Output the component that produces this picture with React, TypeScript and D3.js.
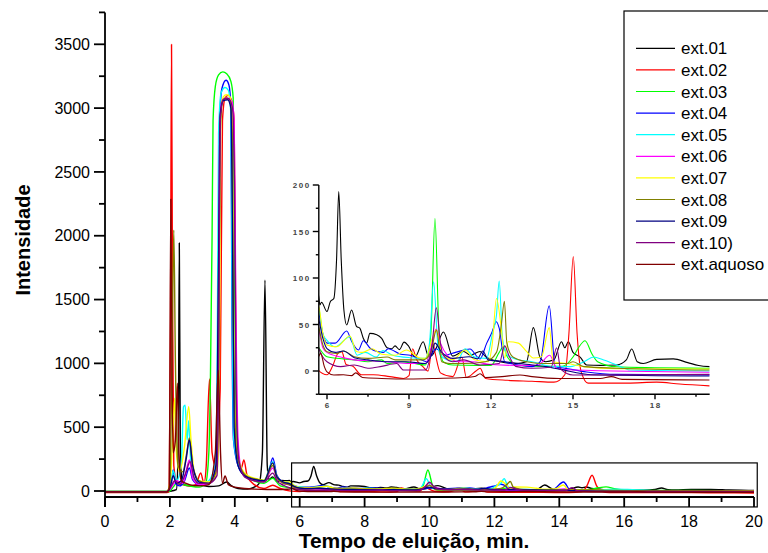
import React from "react";
import * as d3 from "d3";

type Pt = [number, number];

// Series names and Origin-style colours
const seriesNames = ["ext.01", "ext.02", "ext.03", "ext.04", "ext.05", "ext.06", "ext.07", "ext.08", "ext.09", "ext.10)", "ext.aquoso"];
const seriesColors = ["#000000", "#ff0000", "#00ff00", "#0000ff", "#00ffff", "#ff00ff", "#ffff00", "#808000", "#000080", "#800080", "#800000"];

// Chromatograms: [elution time (min), intensity]
const ext01: Pt[] = [[0,-4],[1.9,-4],[2.0,-2],[2.2,10],[2.26,400],[2.29,1944],[2.32,400],[2.38,60],[2.6,40],[2.93,47],[3.2,35],[3.5,40],[3.75,70],[3.9,40],[4.1,20],[4.4,15],[4.6,30],[4.75,60],[4.85,300],[4.93,1652],[5.0,200],[5.05,90],[5.17,110],[5.3,75],[5.45,82],[5.6,80],[5.68,83],[5.74,71],[5.8,74],[6.0,64],[6.12,74.5],[6.25,78],[6.35,120],[6.43,193],[6.52,120],[6.62,65],[6.72,49.5],[6.9,65.6],[7.08,48],[7.2,46],[7.33,35],[7.45,30],[7.57,40.5],[7.82,39],[8.0,35],[8.2,25],[8.37,24],[8.49,27],[8.65,23],[8.82,31],[8.98,27],[9.22,15],[9.52,31.5],[9.71,16],[9.85,17],[10.0,25],[10.26,42],[10.6,16],[11.0,21],[11.25,17],[11.6,21],[11.8,15.5],[12.33,10],[12.9,8],[13.3,10],[13.55,46.6],[13.8,14],[14.0,10],[14.3,12],[14.58,31.5],[14.7,25],[14.83,31.5],[15.0,20],[15.26,15],[15.5,6.5],[16.0,6],[16.6,6.5],[16.95,12],[17.15,23.6],[17.35,10],[17.57,8],[18.06,12.5],[18.67,13],[19.2,9],[19.6,6],[20,4.7]];
const ext02: Pt[] = [[0,-12],[1.9,-12],[1.98,-5],[2.02,1500],[2.05,3498],[2.08,1500],[2.12,200],[2.2,80],[2.4,50],[2.6,40],[2.8,50],[2.95,141],[3.05,60],[3.12,200],[3.22,877],[3.3,300],[3.4,200],[3.55,800],[3.62,2900],[3.7,3080],[3.8,3100],[3.9,3060],[3.98,2900],[4.03,1200],[4.1,300],[4.2,180],[4.28,243],[4.38,120],[4.6,50],[4.9,20],[5.17,45],[5.4,20],[5.68,1],[6.0,-4],[6.2,5],[6.4,19],[6.54,20.8],[6.7,7],[6.95,5],[7.25,-4],[7.7,-4],[8.3,-6],[8.8,-8],[9.0,-5],[9.13,24],[9.28,12],[9.5,5],[9.7,0],[9.87,30],[9.95,20],[10.15,-2],[10.6,-6],[10.93,15],[11.1,-7],[11.45,0],[11.6,3],[11.8,-8],[12.6,-10],[13.5,-11],[14.3,-12],[14.7,-4],[14.85,40],[15.01,123],[15.15,40],[15.3,-1],[15.55,-13],[17.0,-13],[18.06,-12],[18.9,-14],[20,-16]];
const ext03: Pt[] = [[0,-4],[1.9,-4],[2.0,0],[2.1,30],[2.2,60],[2.4,50],[2.6,40],[2.9,30],[3.1,60],[3.2,300],[3.25,900],[3.3,2000],[3.33,2900],[3.4,3170],[3.5,3260],[3.63,3284],[3.75,3270],[3.88,3210],[3.95,3080],[3.98,2200],[4.02,900],[4.1,250],[4.3,130],[4.6,80],[4.9,60],[5.17,100],[5.4,40],[5.68,26],[6.0,15.4],[6.6,13],[7.0,12],[7.5,10],[8.0,12],[8.2,8],[8.7,10],[9.2,8],[9.6,6.5],[9.8,40],[9.95,164],[10.1,40],[10.25,10],[10.6,6.5],[11.5,6],[12.0,6],[12.3,20],[12.45,26],[12.6,15],[13.0,6],[14.0,5],[14.6,5],[15.0,15],[15.2,25],[15.44,32.6],[15.7,18],[15.9,10],[16.6,4.5],[18,3.5],[20,2.9]];
const ext04: Pt[] = [[0,-5],[1.9,-5],[2.02,20],[2.1,165],[2.17,60],[2.3,40],[2.45,80],[2.6,180],[2.7,90],[2.9,50],[3.2,60],[3.4,150],[3.48,600],[3.52,2800],[3.6,3150],[3.73,3218],[3.82,3180],[3.88,3000],[3.91,1500],[3.96,400],[4.1,200],[4.3,120],[4.6,90],[4.9,80],[5.05,150],[5.17,258],[5.3,120],[5.5,70],[5.68,64],[5.85,40],[6.0,30],[6.3,30],[6.72,43],[6.9,32],[7.15,22.6],[7.33,32.6],[7.6,24],[8.06,20],[8.24,24],[8.7,18],[9.04,17],[9.28,14.3],[9.65,10],[9.99,24],[10.3,17],[10.7,20],[11.23,23.6],[11.6,13],[11.84,29.7],[12.02,40.5],[12.2,53],[12.3,46],[12.5,10],[13.0,6.5],[13.5,4.7],[13.8,10],[14.13,70],[14.35,4.7],[14.7,3],[15.5,-1],[16.6,-3.6],[20,-4.3]];
const ext05: Pt[] = [[0,-5],[1.9,-5],[2.02,40],[2.1,160],[2.2,80],[2.35,200],[2.42,660],[2.47,673],[2.53,400],[2.58,550],[2.65,200],[2.8,80],[3.0,60],[3.2,80],[3.38,200],[3.45,700],[3.5,2800],[3.58,3120],[3.7,3161],[3.8,3140],[3.88,2950],[3.92,1500],[3.97,400],[4.1,210],[4.3,130],[4.6,95],[4.9,85],[5.17,230],[5.3,110],[5.5,70],[5.68,69],[5.85,40],[6.0,33],[6.3,26],[6.84,37],[7.1,17],[7.4,20],[7.8,15],[8.05,22],[8.4,17],[9.04,14.3],[9.6,13.6],[9.75,30],[9.9,96],[10.05,30],[10.15,17],[10.4,12],[10.75,10],[11.05,24],[11.4,15],[11.84,13.6],[12.05,40],[12.2,60],[12.3,96.8],[12.42,35],[12.6,17],[13.0,12],[13.5,10],[14.3,4.7],[14.9,4.7],[15.4,10],[15.75,15],[16.1,12],[16.6,6.5],[17.1,1],[20,0]];
const ext06: Pt[] = [[0,-5],[1.9,-5],[2.02,20],[2.2,80],[2.4,60],[2.6,243],[2.7,100],[2.9,50],[3.2,60],[3.4,120],[3.48,700],[3.53,2800],[3.6,3050],[3.75,3080],[3.9,3060],[3.98,2900],[4.03,1500],[4.1,400],[4.2,170],[4.4,110],[4.7,85],[4.9,75],[5.17,180],[5.3,100],[5.5,60],[5.68,48],[5.85,25],[6.0,20],[6.5,15],[7.0,12],[7.5,11],[8.2,10],[9.0,8],[9.6,8],[9.85,30],[9.99,45],[10.15,30],[10.4,17],[10.8,10],[11.3,10],[12.0,7],[13.0,6],[13.7,6],[14.15,17],[14.4,3],[15.0,1],[20,-1.4]];
const ext07: Pt[] = [[0,-5],[1.9,-5],[2.02,100],[2.1,500],[2.15,728],[2.2,300],[2.3,150],[2.45,350],[2.58,660],[2.65,400],[2.75,150],[2.9,80],[3.2,70],[3.45,150],[3.52,600],[3.56,2900],[3.65,3090],[3.75,3106],[3.85,3090],[3.92,2900],[3.96,1300],[4.05,350],[4.2,180],[4.4,120],[4.7,95],[4.9,85],[5.17,215],[5.3,110],[5.5,70],[5.68,71],[5.85,40],[6.0,28],[6.35,26],[6.84,37.6],[7.08,21],[7.3,20],[7.65,24],[8.0,18],[8.5,17],[8.9,22.6],[9.4,14],[9.6,13.6],[9.85,35],[10.0,44],[10.2,19],[10.6,12],[11.05,22.6],[11.4,12],[11.9,10],[12.05,30],[12.2,78],[12.38,45],[12.5,14],[12.63,31.5],[13.0,30],[13.3,21],[13.55,14],[13.85,15.4],[14.13,46.6],[14.28,10],[14.8,8],[15.4,4.7],[16.6,2.5],[20,2.2]];
const ext08: Pt[] = [[0,-5],[1.9,-5],[2.0,50],[2.07,1200],[2.12,2044],[2.17,1000],[2.25,200],[2.4,150],[2.52,300],[2.6,415],[2.7,200],[2.9,80],[3.2,60],[3.42,150],[3.5,800],[3.55,2800],[3.62,3060],[3.75,3080],[3.85,3060],[3.92,2800],[3.96,1200],[4.05,320],[4.2,170],[4.4,110],[4.7,90],[4.9,80],[5.17,200],[5.3,100],[5.5,60],[5.68,49],[5.85,28],[6.0,20.8],[6.35,19],[6.6,21.5],[7.0,15.4],[7.5,13.6],[8.2,15],[8.5,12],[9.5,12],[9.8,20],[10.0,44],[10.2,10],[10.5,8],[11.0,8],[11.8,10],[12.2,20],[12.38,50],[12.49,75],[12.58,30],[12.8,15],[13.3,10],[14.0,8],[14.8,8],[15.0,10],[15.4,4.7],[16.6,3],[20,1]];
const ext09: Pt[] = [[0,-5],[1.9,-5],[2.02,40],[2.1,120],[2.2,60],[2.35,80],[2.5,250],[2.6,400],[2.7,200],[2.9,70],[3.2,60],[3.42,200],[3.5,1800],[3.55,2950],[3.65,3060],[3.78,3065],[3.88,3000],[3.93,2000],[3.98,500],[4.1,200],[4.3,120],[4.6,90],[4.9,80],[5.17,220],[5.3,110],[5.5,70],[5.68,58],[5.85,35],[6.0,24],[6.3,20],[6.6,21.5],[7.0,14.3],[7.5,12],[8.2,10],[8.9,10],[9.6,8],[9.85,20],[9.95,30],[10.2,20],[10.6,13.6],[11.2,15.4],[11.5,13],[11.7,21.5],[11.9,12],[12.5,10],[13.0,8],[13.5,6.5],[14.0,4.7],[14.5,2],[15.7,-4],[20,-5.4]];
const ext10: Pt[] = [[0,-5],[1.9,-5],[2.02,30],[2.15,80],[2.3,50],[2.5,150],[2.62,230],[2.75,100],[2.9,60],[3.2,60],[3.45,120],[3.5,900],[3.55,2900],[3.65,3070],[3.8,3075],[3.93,3000],[3.99,2400],[4.04,800],[4.12,250],[4.3,110],[4.6,80],[4.9,70],[5.17,140],[5.3,80],[5.5,45],[5.68,26],[6.0,10],[6.5,4.7],[7.0,6.5],[7.5,3],[8.0,5],[8.55,8],[8.8,1],[9.6,1],[9.85,30],[10.0,68],[10.15,30],[10.25,17],[10.6,10],[11.0,12],[11.6,6.5],[12.3,8],[12.5,27],[12.65,17],[12.9,5],[13.5,3],[14.2,4],[14.4,25],[14.55,2],[15.0,-4.3],[20,-3.6]];
const extAquoso: Pt[] = [[0,-8],[1.9,-8],[1.98,10],[2.0,800],[2.03,2287],[2.07,800],[2.1,300],[2.17,400],[2.23,845],[2.28,300],[2.35,80],[2.6,50],[2.9,40],[3.2,50],[3.4,300],[3.49,947],[3.56,300],[3.62,60],[3.7,117],[3.8,50],[4.0,30],[4.3,20],[4.6,15],[5.0,12],[5.3,12],[5.6,14],[5.68,15],[5.77,19],[5.9,5],[6.0,-1],[6.25,-4.3],[6.6,-4],[6.9,-5],[7.05,-2],[7.3,-7],[8.0,-8],[9.0,-8.6],[10.0,-8],[11.0,-7],[11.4,-6],[11.6,-3],[11.8,-7],[12.4,-6],[13.06,-4.3],[13.5,-6],[14.5,-8],[16.0,-8],[16.4,-6],[16.8,-9],[20,-9.7]];

const seriesData: Pt[][] = [ext01, ext02, ext03, ext04, ext05, ext06, ext07, ext08, ext09, ext10, extAquoso];

// Axis ticks
const mainXMajor = [0, 2, 4, 6, 8, 10, 12, 14, 16, 18, 20];
const mainXMinor = [1, 3, 5, 7, 9, 11, 13, 15, 17, 19];
const mainYMajor = [0, 500, 1000, 1500, 2000, 2500, 3000, 3500];
const mainYMinor = [250, 750, 1250, 1750, 2250, 2750, 3250, 3750];
const insetXMajor = [6, 9, 12, 15, 18];
const insetXMinor = [7.5, 10.5, 13.5, 16.5, 19.5];
const insetYMajor = [0, 50, 100, 150, 200];
const insetYMinor = [-25, 25, 75, 125, 175];

// Zoom window marked on the main chart
const zoomWindowX = [5.75, 20.1];
const zoomWindowY = [-125, 220];

const FONT = "'Liberation Sans', Arial, Helvetica, sans-serif";

export default function App() {
  // Main chart scales
  const x = d3.scaleLinear().domain([0, 20]).range([105, 754]);
  const y = d3.scaleLinear().domain([0, 3500]).range([491, 44.3]);
  const plotTop = y(3750);
  const axisY = 497;

  // Inset scales
  const ix = d3.scaleLinear().domain([6, 18]).range([327, 655]);
  const iy = d3.scaleLinear().domain([0, 200]).range([371, 185]);
  const ixMin = 5.7, ixMax = 20;
  const iyMin = -25, iyMax = 200;

  const mainLine = d3.line<Pt>().x(d => x(d[0])).y(d => y(d[1])).curve(d3.curveMonotoneX);
  const insetLine = d3.line<Pt>().x(d => ix(d[0])).y(d => iy(d[1])).curve(d3.curveMonotoneX);

  const legendX = 624, legendTop = 11, legendBottom = 300;
  const legendRow0 = 48.3, legendStep = 21.6;

  return (
    <svg width={768} height={553} style={{ position: "absolute", left: 0, top: 0, background: "#fff" }} fontFamily={FONT}>
      <defs>
        <clipPath id="mainClip">
          <rect x={x(0)} y={plotTop} width={x(20) - x(0)} height={axisY - plotTop} />
        </clipPath>
        <clipPath id="insetClip">
          <rect x={ix(ixMin)} y={iy(iyMax) - 2} width={ix(ixMax) - ix(ixMin)} height={iy(iyMin) - iy(iyMax) + 2} />
        </clipPath>
      </defs>
      <rect x={0} y={0} width={768} height={553} fill="#fff" />

      {/* main chromatograms */}
      <g clipPath="url(#mainClip)">
        {seriesData.map((s, i) => (
          <path key={i} d={mainLine(s) || ""} fill="none" stroke={seriesColors[i]} strokeWidth={1.4} strokeLinejoin="round" />
        ))}
      </g>

      {/* main axes */}
      <g stroke="#000" strokeWidth={1.8} fill="none">
        <line x1={x(0)} y1={plotTop} x2={x(0)} y2={axisY + 10} />
        <line x1={x(0)} y1={axisY} x2={x(20)} y2={axisY} />
        {mainYMajor.map(v => <line key={"ym" + v} x1={x(0) - 11} x2={x(0)} y1={y(v)} y2={y(v)} />)}
        {mainYMinor.map(v => <line key={"yn" + v} x1={x(0) - 6} x2={x(0)} y1={y(v)} y2={y(v)} />)}
        {mainXMajor.map(v => <line key={"xm" + v} x1={x(v)} x2={x(v)} y1={axisY} y2={axisY + 10} />)}
        {mainXMinor.map(v => <line key={"xn" + v} x1={x(v)} x2={x(v)} y1={axisY} y2={axisY + 5} />)}
      </g>
      <g fontSize={16} fill="#000">
        {mainYMajor.map(v => (
          <text key={"yl" + v} x={x(0) - 15} y={y(v) + 5.7} textAnchor="end">{v}</text>
        ))}
        {mainXMajor.map(v => (
          <text key={"xl" + v} x={x(v)} y={527} textAnchor="middle">{v}</text>
        ))}
      </g>
      <text x={414} y={548} textAnchor="middle" fontSize={21} fontWeight="bold">Tempo de eluição, min.</text>
      <text transform="translate(30,240) rotate(-90)" textAnchor="middle" fontSize={20} fontWeight="bold">Intensidade</text>

      {/* zoom window */}
      <rect x={x(zoomWindowX[0])} y={y(zoomWindowY[1])} width={x(zoomWindowX[1]) - x(zoomWindowX[0])} height={y(zoomWindowY[0]) - y(zoomWindowY[1])} fill="none" stroke="#000" strokeWidth={1.2} />

      {/* inset */}
      <g clipPath="url(#insetClip)">
        {seriesData.map((s, i) => (
          <path key={i} d={insetLine(s) || ""} fill="none" stroke={seriesColors[i]} strokeWidth={1.1} strokeLinejoin="round" />
        ))}
      </g>
      <g stroke="#000" strokeWidth={1.4} fill="none">
        <line x1={ix(ixMin)} y1={iy(iyMax)} x2={ix(ixMin)} y2={iy(iyMin)} />
        <line x1={ix(ixMin)} y1={iy(iyMin)} x2={ix(ixMax)} y2={iy(iyMin)} />
        {insetYMajor.map(v => <line key={"iym" + v} x1={ix(ixMin) - 6} x2={ix(ixMin)} y1={iy(v)} y2={iy(v)} />)}
        {insetYMinor.map(v => <line key={"iyn" + v} x1={ix(ixMin) - 3} x2={ix(ixMin)} y1={iy(v)} y2={iy(v)} />)}
        {insetXMajor.map(v => <line key={"ixm" + v} x1={ix(v)} x2={ix(v)} y1={iy(iyMin)} y2={iy(iyMin) + 5} />)}
        {insetXMinor.map(v => <line key={"ixn" + v} x1={ix(v)} x2={ix(v)} y1={iy(iyMin)} y2={iy(iyMin) + 2.5} />)}
      </g>
      <g fontSize={8} fill="#444" fontWeight="bold" letterSpacing={1.6}>
        {insetYMajor.map(v => (
          <text key={"iyl" + v} x={ix(ixMin) - 8} y={iy(v) + 3} textAnchor="end">{v}</text>
        ))}
        {insetXMajor.map(v => (
          <text key={"ixl" + v} x={ix(v) + 0.8} y={408} textAnchor="middle">{v}</text>
        ))}
      </g>

      {/* legend */}
      <rect x={legendX} y={legendTop} width={200} height={legendBottom - legendTop} fill="#fff" stroke="#000" strokeWidth={1.2} />
      {seriesNames.map((name, i) => {
        const cy = legendRow0 + i * legendStep;
        return (
          <g key={name}>
            <line x1={636} x2={675} y1={cy} y2={cy} stroke={seriesColors[i]} strokeWidth={1.2} />
            <text x={681} y={cy + 6} fontSize={17} fill="#000">{name}</text>
          </g>
        );
      })}
    </svg>
  );
}
